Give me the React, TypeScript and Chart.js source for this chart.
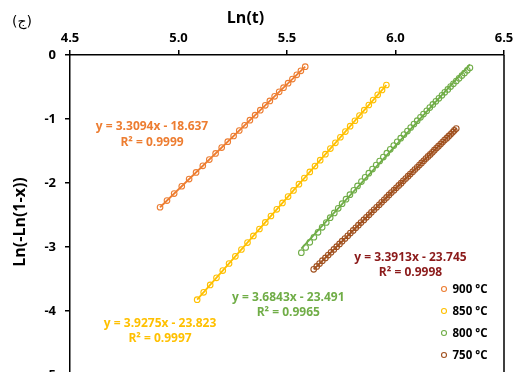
import React, { useEffect, useRef } from "react";
import { Chart, registerables } from "chart.js";
Chart.register(...registerables);

const seriesLabels = ["900 °C", "850 °C", "800 °C", "750 °C"];
const markerColors = ["#ED7D31", "#FFC000", "#70AD47", "#A0501E"];
const textColors = ["#ED7D31", "#FFC000", "#70AD47", "#8B1A1A"];

const x900 = [4.915, 4.947, 4.980, 5.015, 5.049, 5.081, 5.112, 5.142, 5.171, 5.199, 5.227, 5.254, 5.280, 5.305, 5.329, 5.353, 5.377, 5.400, 5.421, 5.443, 5.464, 5.484, 5.505, 5.525, 5.545, 5.564, 5.584];
const y900 = [-2.379, -2.274, -2.166, -2.051, -1.939, -1.834, -1.732, -1.634, -1.538, -1.446, -1.354, -1.266, -1.180, -1.098, -1.019, -0.941, -0.862, -0.786, -0.717, -0.645, -0.576, -0.510, -0.441, -0.376, -0.310, -0.248, -0.182];

const x850 = [5.086, 5.116, 5.146, 5.175, 5.204, 5.233, 5.262, 5.290, 5.318, 5.345, 5.373, 5.400, 5.426, 5.453, 5.479, 5.505, 5.530, 5.555, 5.580, 5.605, 5.629, 5.653, 5.677, 5.700, 5.723, 5.746, 5.769, 5.791, 5.813, 5.834, 5.856, 5.877, 5.897, 5.918, 5.938, 5.958];
const y850 = [-3.823, -3.708, -3.592, -3.481, -3.369, -3.258, -3.146, -3.039, -2.931, -2.827, -2.719, -2.616, -2.516, -2.412, -2.312, -2.212, -2.116, -2.019, -1.923, -1.827, -1.735, -1.643, -1.550, -1.462, -1.373, -1.285, -1.196, -1.112, -1.027, -0.946, -0.862, -0.781, -0.704, -0.623, -0.546, -0.469];

const x800 = [5.566, 5.586, 5.605, 5.624, 5.643, 5.662, 5.681, 5.699, 5.718, 5.736, 5.754, 5.772, 5.790, 5.808, 5.825, 5.843, 5.860, 5.877, 5.894, 5.911, 5.927, 5.944, 5.960, 5.976, 5.992, 6.008, 6.024, 6.039, 6.055, 6.070, 6.085, 6.100, 6.115, 6.129, 6.144, 6.158, 6.172, 6.186, 6.200, 6.214, 6.227, 6.241, 6.254, 6.267, 6.280, 6.293, 6.306, 6.318, 6.331, 6.343];
const y800 = [-3.089, -3.008, -2.927, -2.848, -2.770, -2.693, -2.617, -2.542, -2.468, -2.395, -2.323, -2.252, -2.182, -2.113, -2.045, -1.978, -1.912, -1.847, -1.782, -1.719, -1.656, -1.595, -1.534, -1.474, -1.415, -1.357, -1.300, -1.244, -1.188, -1.133, -1.079, -1.026, -0.974, -0.923, -0.872, -0.822, -0.773, -0.724, -0.677, -0.630, -0.583, -0.538, -0.494, -0.450, -0.406, -0.364, -0.322, -0.281, -0.240, -0.200];

const x750 = [5.623, 5.637, 5.650, 5.663, 5.677, 5.690, 5.703, 5.716, 5.729, 5.742, 5.754, 5.767, 5.780, 5.792, 5.805, 5.817, 5.829, 5.841, 5.854, 5.866, 5.878, 5.889, 5.901, 5.913, 5.925, 5.936, 5.948, 5.959, 5.970, 5.981, 5.993, 6.004, 6.015, 6.026, 6.036, 6.047, 6.058, 6.068, 6.079, 6.089, 6.100, 6.110, 6.120, 6.130, 6.140, 6.150, 6.160, 6.170, 6.179, 6.189, 6.198, 6.208, 6.217, 6.226, 6.236, 6.245, 6.254, 6.263, 6.271, 6.280];
const y750 = [-3.349, -3.304, -3.259, -3.214, -3.170, -3.126, -3.082, -3.038, -2.995, -2.952, -2.909, -2.867, -2.825, -2.783, -2.741, -2.700, -2.659, -2.618, -2.577, -2.537, -2.497, -2.457, -2.418, -2.379, -2.340, -2.301, -2.263, -2.225, -2.187, -2.149, -2.112, -2.075, -2.038, -2.002, -1.966, -1.930, -1.894, -1.859, -1.824, -1.789, -1.754, -1.720, -1.686, -1.652, -1.619, -1.585, -1.553, -1.520, -1.487, -1.455, -1.424, -1.392, -1.361, -1.330, -1.299, -1.268, -1.238, -1.208, -1.179, -1.149];

const equations = ["y = 3.3094x - 18.637", "y = 3.9275x - 23.823", "y = 3.6843x - 23.491", "y = 3.3913x - 23.745"];
const r2Texts = ["R² = 0.9999", "R² = 0.9997", "R² = 0.9965", "R² = 0.9998"];
// label anchor points (data coordinates)
const eqAnchorX = [4.878, 4.915, 5.506, 6.069];
const eqAnchorY = [-1.121, -4.19, -3.785, -3.162];

const xMin = 4.5, xMax = 6.5, xStep = 0.5;
const yMin = -5, yMax = 0, yStep = 1;
const xTitle = "Ln(t)";
const yTitle = "Ln(-Ln(1-x))";
const panelTag = "(ج)";

const allX = [x900, x850, x800, x750];
const allY = [y900, y850, y800, y750];

function fit(xs: number[], ys: number[]) {
  const n = xs.length;
  let sx = 0, sy = 0, sxx = 0, sxy = 0;
  for (let i = 0; i < n; i++) { sx += xs[i]; sy += ys[i]; sxx += xs[i] * xs[i]; sxy += xs[i] * ys[i]; }
  const m = (n * sxy - sx * sy) / (n * sxx - sx * sx);
  const b = (sy - m * sx) / n;
  const lo = Math.min(...xs), hi = Math.max(...xs);
  return [{ x: lo, y: m * lo + b }, { x: hi, y: m * hi + b }];
}

const FONT = '"Open Sans"';

const decor = {
  id: "decor",
  afterDatasetsDraw(chart: any) {
    const { ctx, chartArea, scales } = chart;
    const xs = scales.x, ys = scales.y;
    ctx.save();
    // right & bottom border
    ctx.strokeStyle = "#000";
    ctx.lineWidth = 1.5;
    ctx.beginPath();
    ctx.moveTo(chartArea.right, chartArea.top);
    ctx.lineTo(chartArea.right, chartArea.bottom);
    ctx.lineTo(chartArea.left, chartArea.bottom);
    ctx.stroke();
    // equations
    ctx.font = `bold 12px ${FONT}`;
    ctx.textAlign = "center";
    ctx.textBaseline = "middle";
    for (let i = 0; i < equations.length; i++) {
      const px = xs.getPixelForValue(eqAnchorX[i]);
      const py = ys.getPixelForValue(eqAnchorY[i]);
      ctx.fillStyle = textColors[i];
      ctx.fillText(equations[i], px, py);
      ctx.fillText(r2Texts[i], px, py + 15.5);
    }
    // legend
    const lx = chartArea.right - 60;
    const ly0 = chartArea.top + 234;
    ctx.textAlign = "left";
    ctx.font = `bold 11.5px ${FONT}`;
    for (let i = 0; i < seriesLabels.length; i++) {
      const y = ly0 + i * 22;
      ctx.beginPath();
      ctx.arc(lx, y, 2.5, 0, Math.PI * 2);
      ctx.strokeStyle = markerColors[i];
      ctx.lineWidth = 1.1;
      ctx.stroke();
      ctx.fillStyle = "#000";
      ctx.fillText(seriesLabels[i], lx + 8.5, y + 0.5);
    }
    // titles
    ctx.fillStyle = "#000";
    ctx.font = `bold 16px ${FONT}`;
    ctx.textAlign = "center";
    ctx.fillText(xTitle, 245.5, 18);
    ctx.save();
    ctx.translate(20, 222);
    ctx.rotate(-Math.PI / 2);
    ctx.fillText(yTitle, 0, 0);
    ctx.restore();
    ctx.font = `14px "DejaVu Sans"`;
    ctx.textAlign = "left";
    ctx.fillText(panelTag, 12, 22);
    ctx.restore();
  },
};

export default function App() {
  const ref = useRef<HTMLCanvasElement | null>(null);
  useEffect(() => {
    if (!ref.current) return;
    const datasets: any[] = [];
    for (let i = 0; i < 4; i++) {
      datasets.push({
        type: "line",
        label: seriesLabels[i] + " fit",
        data: fit(allX[i], allY[i]),
        borderColor: markerColors[i],
        borderWidth: 1.8,
        pointRadius: 0,
        showLine: true,
        fill: false,
        order: 1,
      });
      datasets.push({
        type: "scatter",
        label: seriesLabels[i],
        data: allX[i].map((x, j) => ({ x, y: allY[i][j] })),
        borderColor: markerColors[i],
        backgroundColor: "rgba(0,0,0,0)",
        pointRadius: 2.8,
        pointBorderWidth: 1.1,
        order: 2,
      });
    }
    const tickFont = { family: FONT, size: 13, weight: "bold" as const };
    const chart = new Chart(ref.current, {
      type: "scatter",
      data: { datasets },
      options: {
        animation: false,
        responsive: false,
        layout: { padding: { left: 0, top: 0, right: 18, bottom: 25 } },
        plugins: { legend: { display: false }, tooltip: { enabled: false } },
        scales: {
          x: {
            type: "linear",
            position: "top",
            min: xMin,
            max: xMax,
            ticks: { stepSize: xStep, color: "#000", font: tickFont, padding: 4 },
            grid: { display: true, drawOnChartArea: false, drawTicks: true, tickLength: 5, color: "#000", lineWidth: 1.5 },
            border: { display: true, color: "#000", width: 1.5 },
            afterFit: (s: any) => { s.height = 55; },
          },
          y: {
            type: "linear",
            position: "left",
            min: yMin,
            max: yMax,
            ticks: { stepSize: yStep, color: "#000", font: tickFont, padding: 9 },
            grid: { display: true, drawOnChartArea: false, drawTicks: true, tickLength: 5, color: "#000", lineWidth: 1.5 },
            border: { display: true, color: "#000", width: 1.5 },
            afterFit: (s: any) => { s.width = 70; },
          },
        },
      },
      plugins: [decor],
    });
    return () => chart.destroy();
  }, []);
  return (
    <div style={{ position: "fixed", left: 0, top: 0, width: 522, height: 372, overflow: "hidden", background: "#fff" }}>
      <canvas ref={ref} width={522} height={400} style={{ display: "block" }} />
    </div>
  );
}
